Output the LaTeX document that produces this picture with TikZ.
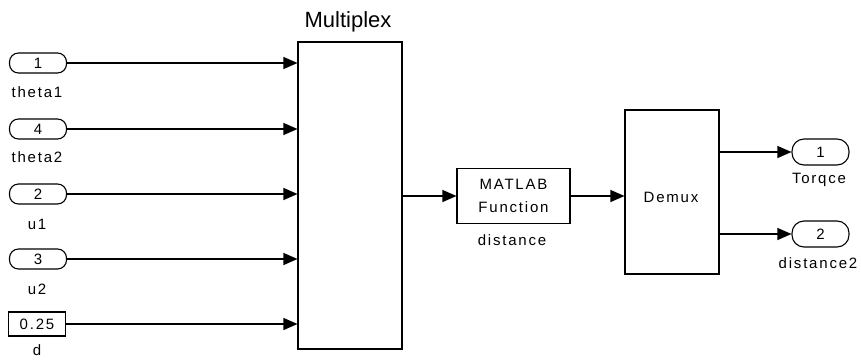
\documentclass[tikz,border=0pt]{standalone}
\usepackage{fontspec}
\setmainfont{Liberation Sans}[LetterSpace=12]
\newfontfamily\titlefont{Liberation Sans}
\usetikzlibrary{arrows.meta}
\begin{document}
\begin{tikzpicture}[x=1pt,y=-1pt,line width=1.1pt,
  port/.style={draw,rounded corners=9pt,minimum width=57pt,minimum height=20pt,inner sep=0pt,font=\fontsize{15}{16}\selectfont},
  blk/.style={draw,inner sep=0pt},
  lbl/.style={font=\fontsize{15}{16}\selectfont,inner sep=0pt},
  sig/.style={-{Triangle[length=14pt,width=12pt]}}]
\useasboundingbox (0,0) rectangle (861,359);
% inports
\node[port] (p1) at (38,63) {1};
\node[port] (p4) at (38,129) {4};
\node[port] (p2) at (38,194) {2};
\node[port] (p3) at (38,259) {3};
\node[draw,minimum width=57pt,minimum height=24pt,inner sep=0pt,font=\fontsize{15}{16}\selectfont] (c) at (37,324) {0.25};
\node[lbl] (l1) at (37,92) {theta1};
\node[lbl] (l4) at (37,157) {theta2};
\node[lbl] (l2) at (37,224) {u1};
\node[lbl] (l3) at (37,289) {u2};
\node[lbl] (ld) at (37,350) {d};
% mux
\node[blk,minimum width=104pt,minimum height=307pt] (mux) at (350,195.5) {};
\node[font=\titlefont\fontsize{22}{24}\selectfont,inner sep=0pt] (ml) at (348,22) {Multiplex};
\coordinate (m1) at (mux.west |- p1);
\coordinate (m4) at (mux.west |- p4);
\coordinate (m2) at (mux.west |- p2);
\coordinate (m3) at (mux.west |- p3);
\coordinate (mc) at (mux.west |- c);
\draw[sig] (p1) -- (m1);
\draw[sig] (p4) -- (m4);
\draw[sig] (p2) -- (m2);
\draw[sig] (p3) -- (m3);
\draw[sig] (c) -- (mc);
% matlab fcn
\node[blk,minimum width=113pt,minimum height=55pt,align=center,font=\fontsize{15}{22.5}\selectfont] (f) at (513.5,196) {MATLAB\\Function};
\node[lbl] (fl) at (512,240) {distance};
\coordinate (mo) at (mux.east |- f);
\draw[sig] (mo) -- (f.west);
% demux
\node[blk,minimum width=94pt,minimum height=164pt] (dm) at (672,192) {};
\node[lbl] (dml) at (671,197) {Demux};
\coordinate (di) at (dm.west |- f);
\draw[sig] (f.east) -- (di);
% outports
\node[port,minimum height=26pt,rounded corners=12pt] (o1) at (820.5,152) {1};
\node[port,minimum height=26pt,rounded corners=12pt] (o2) at (820.5,234) {2};
\node[lbl] (ol1) at (819,180) {Torqce};
\node[lbl] (ol2) at (818,263) {distance2};
\coordinate (d1) at (dm.east |- o1);
\coordinate (d2) at (dm.east |- o2);
\draw[sig] (d1) -- (o1.west);
\draw[sig] (d2) -- (o2.west);
\end{tikzpicture}
\end{document}
